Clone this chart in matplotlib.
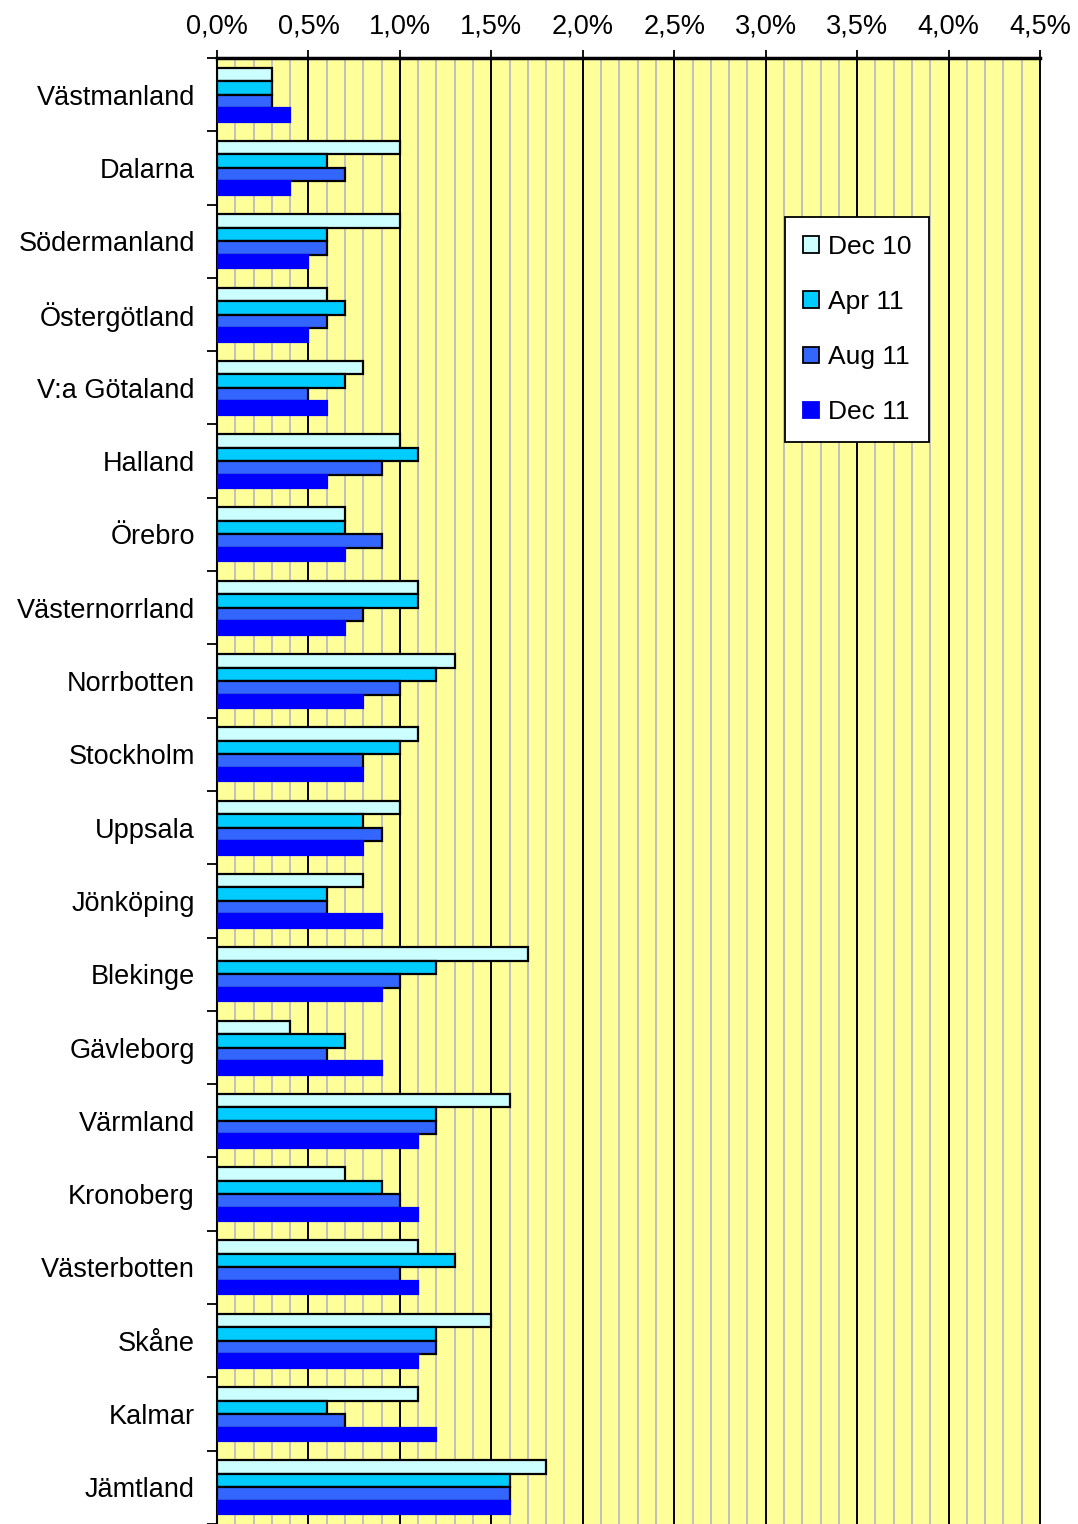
import numpy as np
import matplotlib
matplotlib.use("Agg")
import matplotlib.pyplot as plt
from matplotlib.patches import Patch
from matplotlib.ticker import MultipleLocator, FuncFormatter

plt.rcParams['font.family'] = ['Liberation Sans', 'DejaVu Sans']

regions = ["Västmanland", "Dalarna", "Södermanland", "Östergötland", "V:a Götaland",
           "Halland", "Örebro", "Västernorrland", "Norrbotten", "Stockholm",
           "Uppsala", "Jönköping", "Blekinge", "Gävleborg", "Värmland",
           "Kronoberg", "Västerbotten", "Skåne", "Kalmar", "Jämtland"]

dec10 = [0.3, 1.0, 1.0, 0.6, 0.8, 1.0, 0.7, 1.1, 1.3, 1.1,
         1.0, 0.8, 1.7, 0.4, 1.6, 0.7, 1.1, 1.5, 1.1, 1.8]
apr11 = [0.3, 0.6, 0.6, 0.7, 0.7, 1.1, 0.7, 1.1, 1.2, 1.0,
         0.8, 0.6, 1.2, 0.7, 1.2, 0.9, 1.3, 1.2, 0.6, 1.6]
aug11 = [0.3, 0.7, 0.6, 0.6, 0.5, 0.9, 0.9, 0.8, 1.0, 0.8,
         0.9, 0.6, 1.0, 0.6, 1.2, 1.0, 1.0, 1.2, 0.7, 1.6]
dec11 = [0.4, 0.4, 0.5, 0.5, 0.6, 0.6, 0.7, 0.7, 0.8, 0.8,
         0.8, 0.9, 0.9, 0.9, 1.1, 1.1, 1.1, 1.1, 1.2, 1.6]

series = ["Dec 10", "Apr 11", "Aug 11", "Dec 11"]
colors = ["#CCFFFF", "#00CCFF", "#3366FF", "#0000FF"]
edges = ["black", "black", "black", "#0000FF"]

fig = plt.figure(figsize=(10.78, 15.24), dpi=100)
ax = fig.add_axes([217/1078, 0.0, (1040-217)/1078, 1 - 58/1524])
ax.set_facecolor("#FFFF99")

y = np.arange(len(regions))
h = 0.184
for k, vals in enumerate([dec10, apr11, aug11, dec11]):
    ax.barh(y + (k - 1.5) * h, vals, height=h, color=colors[k],
            edgecolor=edges[k], linewidth=1.6, zorder=3)

ax.set_xlim(0, 4.5)
ax.set_ylim(len(regions) - 0.5, -0.5)

ax.xaxis.set_major_locator(MultipleLocator(0.5))
ax.xaxis.set_minor_locator(MultipleLocator(0.1))
ax.xaxis.set_major_formatter(FuncFormatter(lambda v, p: f"{v:.1f}%".replace(".", ",")))
ax.xaxis.tick_top()
ax.grid(which='minor', axis='x', color='#C0C0C0', linewidth=1.4, zorder=1)
ax.grid(which='major', axis='x', color='black', linewidth=1.4, zorder=2)
ax.tick_params(axis='x', which='major', direction='out', length=6, width=1.3,
               labelsize=19.5, pad=7)
ax.tick_params(axis='x', which='minor', length=0)

ax.set_yticks(y)
ax.set_yticklabels(regions)
ax.set_yticks(np.arange(len(regions) + 1) - 0.5, minor=True)
ax.tick_params(axis='y', which='major', length=0, labelsize=19.5, pad=16)
ax.tick_params(axis='y', which='minor', direction='out', length=7, width=1.3)

ax.spines['top'].set_linewidth(2.5)
ax.spines['left'].set_linewidth(1.5)
ax.spines['right'].set_linewidth(1.4)
ax.spines['bottom'].set_visible(False)

handles = [Patch(facecolor=colors[k], edgecolor=edges[k], linewidth=1.3) for k in range(4)]
leg = ax.legend(handles, series, loc='upper left',
                bbox_to_anchor=(785/1078, 1 - 217/1524), bbox_transform=fig.transFigure,
                borderaxespad=0, fancybox=False, framealpha=1, edgecolor='black',
                fontsize=19, handlelength=0.6, handleheight=0.6, handletextpad=0.35,
                labelspacing=1.18, borderpad=0.68)
leg.get_frame().set_linewidth(1.3)
leg.set_zorder(5)

fig.savefig("out.png", dpi=100)
